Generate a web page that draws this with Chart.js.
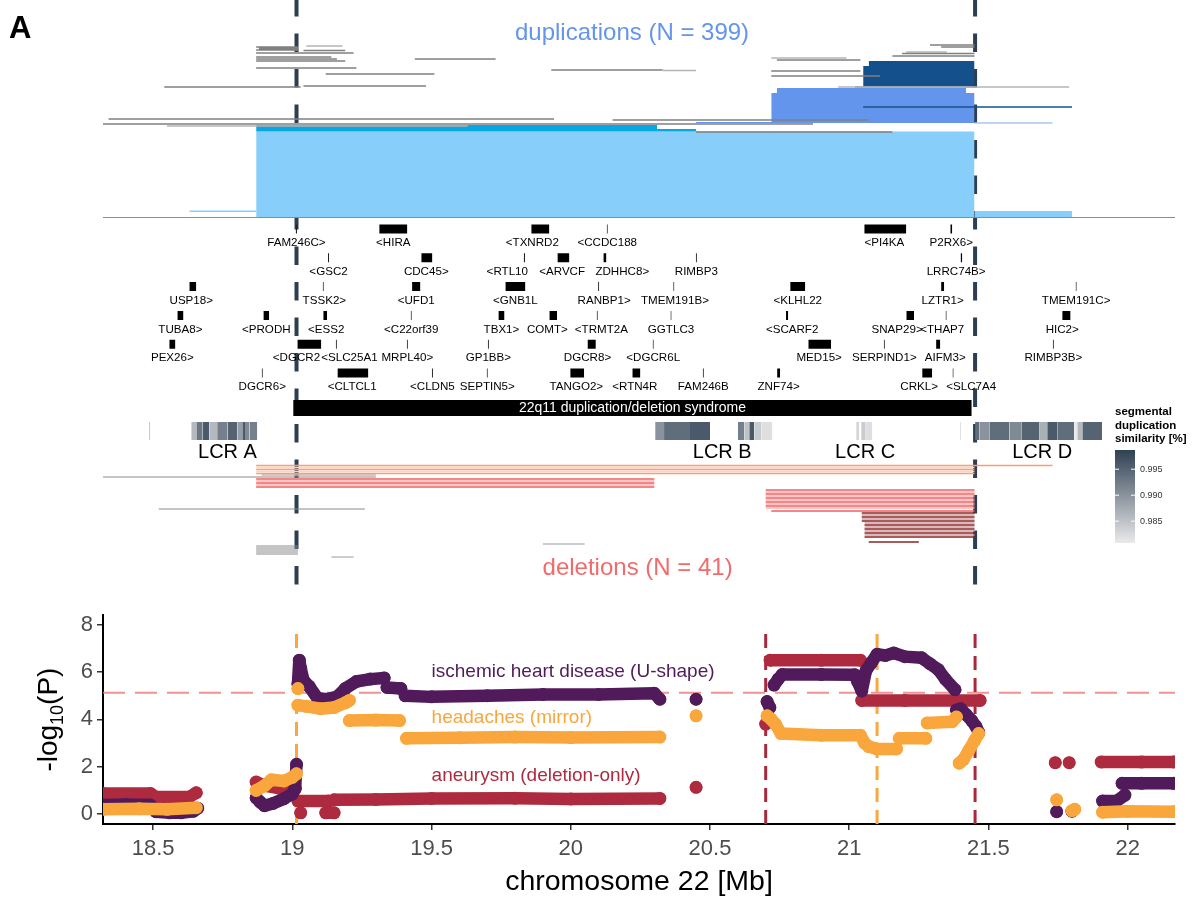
<!DOCTYPE html>
<html>
<head>
<meta charset="utf-8">
<script src="https://cdn.jsdelivr.net/npm/chart.js@4.4.1/dist/chart.umd.min.js"></script>
<style>
  body { margin: 0; background: #fff; }
  #top { position: absolute; left: 0; top: 0; width: 1196px; height: 598px; }
  #bottom { position: absolute; left: 0; top: 598px; width: 1196px; height: 301px; }
</style>
</head>
<body>
<div id="top"><canvas id="trackChart"></canvas></div>
<div id="bottom"><canvas id="pChart"></canvas></div>
<script>
const FONT = "'Liberation Sans', Arial, Helvetica, sans-serif";

// x range shared by both panels (Mb)
const xMin = 18.32, xMax = 22.17;
const xTicks = [18.5, 19, 19.5, 20, 20.5, 21, 21.5, 22];
const yTicks = [0, 2, 4, 6, 8];

// LCR A / LCR D breakpoints
const lcrBreaks = [19.015, 21.452];

// duplications: [start, end, row]  (rows counted from the top of the track)
const dupGrayDark = [
  [18.87, 19.02, 7], [18.88, 19.02, 8.5], [18.87, 19.02, 10], [19.04, 19.19, 10.5],
  [18.87, 19.22, 13], [18.87, 19.14, 17], [18.87, 19.16, 19], [18.87, 19.19, 21],
  [18.87, 19.23, 28], [19.12, 19.51, 34], [19.44, 19.73, 19], [19.93, 20.33, 30],
  [18.54, 19.03, 47], [19.04, 19.48, 46], [18.34, 19.94, 79], [20.15, 21.07, 80],
  [18.32, 20.87, 84], [21.29, 21.45, 5], [21.33, 21.45, 7], [21.19, 21.45, 13.5],
  [21.155, 21.45, 16], [20.74, 21.04, 20], [20.72, 21.04, 31], [20.72, 21.11, 36],
  [20.45, 21.155, 92]
];
const dupGrayLight = [
  [19.05, 19.18, 6], [20.72, 20.99, 18], [21.205, 21.35, 12], [20.33, 20.45, 30.5],
  [20.96, 21.79, 47], [18.55, 19.63, 86]
];
const dupDarkBlueBlocks = [[21.07, 21.45, 21, 26], [21.05, 21.45, 26, 46.5], [21.02, 21.45, 46.5, 47.5]];
const dupDarkBlueLines = [[21.05, 21.80, 67]];
const dupMidBlueBlocks = [[20.74, 21.42, 48, 53], [20.72, 21.45, 53, 82], [20.45, 21.45, 82, 83]];
const dupPaleBlueLines = [[21.45, 21.73, 83]];
const dupBrightBlueBlocks = [[18.87, 20.31, 85, 91.5], [20.31, 20.45, 89, 91.5]];
const dupLightBlueBlocks = [[18.87, 21.45, 91.5, 177], [21.45, 21.80, 171, 177], [18.63, 18.87, 170.5, 172]];
const dupBaseline = [[18.32, 22.17, 177.5]];

// genes: [label, start, end, lane, label position]
const genes = [
  ['FAM246C>', 19.012, 19.017, 1], ['<HIRA', 19.312, 19.413, 1], ['<TXNRD2', 19.858, 19.923, 1, 19.862],
  ['<CCDC188', 20.129, 20.133, 1], ['<PI4KA', 21.054, 21.205, 1, 21.126], ['P2RX6>', 21.363, 21.370, 1],
  ['<GSC2', 19.128, 19.132, 2], ['CDC45>', 19.463, 19.503, 2, 19.481], ['<RTL10', 19.831, 19.836, 2, 19.772],
  ['<ARVCF', 19.952, 19.995, 2, 19.969], ['ZDHHC8>', 20.117, 20.128, 2, 20.185], ['RIMBP3', 20.449, 20.453, 2],
  ['LRRC74B>', 21.400, 21.406, 2, 21.384],
  ['USP18>', 18.630, 18.655, 3, 18.637], ['TSSK2>', 19.109, 19.113, 3, 19.115], ['<UFD1', 19.430, 19.460, 3],
  ['<GNB1L', 19.765, 19.837, 3], ['RANBP1>', 20.098, 20.102, 3, 20.120], ['TMEM191B>', 20.368, 20.372, 3, 20.374],
  ['<KLHL22', 20.788, 20.842, 3], ['LZTR1>', 21.330, 21.341, 3], ['TMEM191C>', 21.813, 21.817, 3],
  ['TUBA8>', 18.587, 18.609, 4], ['<PRODH', 18.896, 18.917, 4], ['<ESS2', 19.111, 19.125, 4, 19.122],
  ['<C22orf39', 19.425, 19.429, 4], ['TBX1>', 19.740, 19.762, 4], ['COMT>', 19.923, 19.951, 4, 19.916],
  ['<TRMT2A', 20.093, 20.097, 4, 20.110], ['GGTLC3', 20.358, 20.362, 4], ['<SCARF2', 20.773, 20.781, 4, 20.795],
  ['SNAP29>', 21.205, 21.233, 4, 21.172], ['<THAP7', 21.346, 21.350, 4, 21.334], ['HIC2>', 21.765, 21.795, 4, 21.765],
  ['PEX26>', 18.558, 18.580, 5], ['<DGCR2', 19.018, 19.104, 5, 19.015], ['<SLC25A1', 19.156, 19.160, 5, 19.205],
  ['MRPL40>', 19.411, 19.415, 5], ['GP1BB>', 19.702, 19.706, 5], ['DGCR8>', 20.060, 20.090, 5, 20.060],
  ['<DGCR6L', 20.294, 20.298, 5], ['MED15>', 20.853, 20.935, 5, 20.892], ['SERPIND1>', 21.124, 21.128, 5],
  ['AIFM3>', 21.312, 21.327, 5, 21.345], ['RIMBP3B>', 21.731, 21.735, 5],
  ['DGCR6>', 18.890, 18.894, 6], ['<CLTCL1', 19.162, 19.273, 6, 19.215], ['<CLDN5', 19.501, 19.505, 6],
  ['SEPTIN5>', 19.698, 19.702, 6], ['TANGO2>', 19.998, 20.048, 6, 20.020], ['<RTN4R', 20.221, 20.250, 6, 20.230],
  ['FAM246B', 20.474, 20.478, 6], ['ZNF74>', 20.741, 20.752, 6], ['CRKL>', 21.262, 21.298, 6, 21.251],
  ['<SLC7A4', 21.371, 21.375, 6, 21.438]
];

const syndromeRegion = [19.003, 21.44];
const syndromeLabel = '22q11 duplication/deletion syndrome';

// segmental duplications: [start, end, similarity]
const lcrCells = [
  [18.485, 18.490, 0.984],
  [18.637, 18.655, 0.986], [18.655, 18.677, 0.993], [18.677, 18.702, 0.996], [18.702, 18.730, 0.986],
  [18.730, 18.767, 0.992], [18.767, 18.803, 0.995], [18.803, 18.820, 0.989], [18.820, 18.830, 0.996],
  [18.830, 18.846, 0.991], [18.846, 18.874, 0.992],
  [20.303, 20.335, 0.990], [20.335, 20.425, 0.994], [20.425, 20.500, 0.996],
  [20.600, 20.623, 0.992], [20.623, 20.641, 0.985], [20.641, 20.659, 0.996], [20.659, 20.684, 0.984],
  [20.684, 20.724, 0.982],
  [21.025, 21.036, 0.983], [21.043, 21.057, 0.984], [21.057, 21.083, 0.982], [21.398, 21.402, 0.982],
  [21.452, 21.467, 0.994], [21.467, 21.503, 0.990], [21.503, 21.575, 0.994], [21.575, 21.618, 0.991],
  [21.618, 21.682, 0.995], [21.682, 21.711, 0.987], [21.711, 21.747, 0.996], [21.747, 21.808, 0.994],
  [21.808, 21.819, 0.981], [21.819, 21.837, 0.986], [21.837, 21.908, 0.995]
];
const lcrNames = [['LCR A', 18.767], ['LCR B', 20.544], ['LCR C', 21.057], ['LCR D', 21.693]];
const simTicks = [0.995, 0.990, 0.985];

// deletions: [start, end, row]
const delOrange = [[18.87, 21.45, 2.5], [18.87, 21.45, 6.5], [18.87, 21.45, 10.5], [21.45, 21.73, 2.5]];
const delPeach = [[18.87, 21.45, 4.5], [18.87, 21.45, 8.5]];
const delGray = [[18.32, 19.30, 14], [18.52, 19.26, 46], [18.87, 19.02, 83], [18.87, 19.02, 85],
  [18.87, 19.02, 87], [18.87, 19.02, 89], [18.87, 19.02, 91]];
const delGrayLight = [[18.89, 19.30, 12], [19.90, 20.05, 81], [19.14, 19.22, 94]];
const delRed = [[18.87, 20.30, 16], [18.87, 20.30, 20], [18.87, 20.30, 24], [20.70, 21.45, 27],
  [20.70, 21.45, 31], [20.70, 21.45, 35], [20.70, 21.45, 39], [20.70, 21.45, 43], [20.72, 21.45, 48]];
const delPink = [[18.87, 20.30, 18], [18.87, 20.30, 22], [20.70, 21.45, 29], [20.70, 21.45, 33],
  [20.70, 21.45, 37], [20.70, 21.45, 41], [20.70, 21.45, 45]];
const delDarkRed = [[21.045, 21.45, 50], [21.045, 21.45, 54], [21.045, 21.45, 58], [21.055, 21.45, 62],
  [21.055, 21.45, 66], [21.055, 21.45, 70], [21.055, 21.45, 74], [21.07, 21.25, 79]];
const delRose = [[21.045, 21.45, 52], [21.045, 21.45, 56], [21.055, 21.45, 60], [21.055, 21.45, 64],
  [21.055, 21.45, 68], [21.055, 21.45, 72]];

// association results, -log10(P); null = no markers
const headaches = [
  [18.32, 0.2], [18.45, 0.22], [18.55, 0.2], [18.655, 0.27], null,
  [18.87, 1.0], [18.9, 1.2], [18.925, 1.45], [18.97, 1.4], [19.0, 1.55], [19.015, 1.7], null,
  [19.02, 5.3], null,
  [19.02, 4.6], [19.05, 4.55], [19.1, 4.45], [19.15, 4.5], [19.19, 4.7], [19.205, 4.8], null,
  [19.205, 3.95], [19.3, 3.97], [19.385, 3.95], null,
  [19.41, 3.2], [19.6, 3.22], [19.8, 3.25], [20.0, 3.23], [20.32, 3.25], null,
  [20.45, 4.15], null,
  [20.705, 4.15], [20.72, 4.0], [20.735, 3.8], [20.755, 3.4], [20.9, 3.33], [21.04, 3.33],
  [21.055, 3.0], [21.07, 2.85], [21.1, 2.75], [21.17, 2.75], null,
  [21.18, 3.2], [21.275, 3.2], null,
  [21.28, 3.85], [21.37, 3.9], [21.385, 4.1], null,
  [21.395, 2.15], [21.41, 2.3], [21.43, 2.7], [21.45, 3.1], [21.465, 3.4], null,
  [21.745, 0.6], null,
  [21.8, 0.14], [21.81, 0.2], null,
  [21.91, 0.08], [22.0, 0.12], [22.165, 0.1]
];
const ischemic = [
  [18.32, 0.38], [18.4, 0.4], [18.49, 0.38], [18.51, 0.1], [18.56, 0.05], [18.6, 0.05], [18.645, 0.12], [18.66, 0.25], null,
  [18.87, 0.68], [18.885, 0.5], [18.9, 0.35], [18.93, 0.45], [18.97, 0.65], [19.0, 0.85], [19.01, 1.1], [19.015, 2.1], null,
  [19.02, 5.5], [19.025, 6.5], [19.03, 6.15], [19.04, 5.65], [19.06, 5.4], [19.09, 4.9], [19.12, 4.85],
  [19.16, 4.95], [19.19, 5.3], [19.23, 5.6], [19.28, 5.7], [19.33, 5.75], null,
  [19.34, 5.35], [19.39, 5.3], null,
  [19.405, 5.0], [19.5, 4.95], [19.7, 5.0], [19.9, 5.05], [20.1, 5.05], [20.3, 5.1], [20.32, 4.85], null,
  [20.45, 4.85], null,
  [20.705, 4.75], [20.715, 4.5], null,
  [20.73, 5.45], [20.745, 5.7], [20.76, 5.9], [20.9, 5.9], [21.02, 5.88], [21.03, 5.6], [21.045, 5.2],
  [21.06, 6.05], [21.08, 6.4], [21.1, 6.75], [21.13, 6.7], [21.16, 6.8], [21.2, 6.65], [21.26, 6.6],
  [21.29, 6.35], [21.32, 6.1], [21.345, 5.7], [21.38, 5.25], null,
  [21.385, 4.4], [21.4, 4.45], [21.42, 4.2], [21.44, 3.95], [21.455, 3.7], [21.465, 3.45], null,
  [21.745, 0.1], null,
  [21.8, 0.12], null,
  [21.91, 0.55], [21.96, 0.55], [21.99, 0.8], null,
  [21.98, 1.3], [22.05, 1.3], [22.165, 1.3]
];
const aneurysm = [
  [18.32, 0.87], [18.49, 0.87], [18.51, 0.72], [18.63, 0.72], [18.655, 0.9], null,
  [18.87, 1.35], [18.9, 1.2], [18.95, 1.1], [19.01, 1.05], null,
  [19.02, 0.55], [19.13, 0.55], null,
  [19.03, 0.05], null,
  [19.12, 0.05], [19.15, 0.05], null,
  [19.15, 0.6], [19.3, 0.62], [19.5, 0.66], [19.8, 0.67], [20.0, 0.64], [20.32, 0.66], null,
  [20.45, 1.13], null,
  [20.7, 3.8], null,
  [20.716, 6.5], [20.9, 6.5], [21.04, 6.5], null,
  [21.045, 4.8], [21.2, 4.8], [21.47, 4.8], null,
  [21.74, 2.17], null,
  [21.79, 2.17], null,
  [21.905, 2.2], [22.05, 2.2], [22.165, 2.2]
];
const seriesNames = ['headaches (mirror)', 'ischemic heart disease (U-shape)', 'aneurysm (deletion-only)'];
const seriesLabelAt = [[19.5, 4.05], [19.5, 6.0], [19.5, 1.6]];
const orangeLines = [19.015, 21.10];
const redLines = [20.70, 21.452];
const pThreshold = 5.12;

// ---------- track layout (top panel, 1 unit = 1 px)
const DUP_TOP = 40, DEL_TOP = 463;
const GENE_TOP = 229, GENE_STEP = 28.8;
const BAR_ROWS = [400, 416], LCR_ROWS = [422, 440];

function segs(list, top) {
  const pts = [];
  list.forEach(([a, b, r]) => {
    pts.push({x: a, y: top + r}, {x: b, y: top + r}, {x: b, y: null});
  });
  return pts;
}
function lineSet(list, top, color, width) {
  return {data: segs(list, top), borderColor: color, borderWidth: width, pointRadius: 0, fill: false};
}
function block(a, b, r0, r1, color) {
  return {data: [{x: a, y: r0}, {x: b, y: r0}], fill: {value: r1}, backgroundColor: color,
    borderColor: 'rgba(0,0,0,0)', borderWidth: 0, pointRadius: 0};
}
function simColor(s) {
  let t = (s - 0.980) / (0.999 - 0.980);
  t = Math.max(0, Math.min(1, t));
  const c0 = [242, 242, 242], c1 = [44, 62, 80];
  const c = c0.map((v, i) => Math.round(v + (c1[i] - v) * t));
  return `rgb(${c[0]},${c[1]},${c[2]})`;
}

// draw order: first = bottom
let topSets = [];
lcrBreaks.forEach(v => topSets.push({data: [{x: v, y: -2}, {x: v, y: 585}], borderColor: '#2c3e50',
  borderWidth: 4, borderDash: [18.5, 17], pointRadius: 0, fill: false}));
dupLightBlueBlocks.forEach(b => topSets.push(block(b[0], b[1], DUP_TOP + b[2], DUP_TOP + b[3], '#87cefa')));
dupBrightBlueBlocks.forEach(b => topSets.push(block(b[0], b[1], DUP_TOP + b[2], DUP_TOP + b[3], '#06a7e2')));
dupMidBlueBlocks.forEach(b => topSets.push(block(b[0], b[1], DUP_TOP + b[2], DUP_TOP + b[3], '#6495ed')));
dupDarkBlueBlocks.forEach(b => topSets.push(block(b[0], b[1], DUP_TOP + b[2], DUP_TOP + b[3], '#14508c')));
topSets.push(lineSet(dupGrayLight, DUP_TOP, '#b5b5b5', 1.4));
topSets.push(lineSet(dupGrayDark, DUP_TOP, '#808080', 1.4));
topSets.push(lineSet(dupDarkBlueLines, DUP_TOP, '#14508c', 1.4));
topSets.push(lineSet(dupPaleBlueLines, DUP_TOP, '#a9c6f5', 1.6));
topSets.push(lineSet(dupBaseline, DUP_TOP, '#8c8c8c', 1.2));
genes.forEach(g => {
  const yc = GENE_TOP + (g[3] - 1) * GENE_STEP;
  topSets.push(block(g[1], g[2], yc - 4.5, yc + 4.5, (g[2] - g[1]) < 0.006 ? '#222' : '#000'));
});
topSets.push(block(syndromeRegion[0], syndromeRegion[1], BAR_ROWS[0], BAR_ROWS[1], '#000'));
lcrCells.forEach(c => topSets.push(block(c[0], c[1], LCR_ROWS[0], LCR_ROWS[1], simColor(c[2]))));
topSets.push(lineSet(delGray, DEL_TOP, '#8a8a8a', 1.0));
topSets.push(lineSet(delGrayLight, DEL_TOP, '#bdbdbd', 1.3));
topSets.push(lineSet(delPeach, DEL_TOP, '#fdd3bf', 1.3));
topSets.push(lineSet(delOrange, DEL_TOP, '#fc9d6c', 1.3));
topSets.push(lineSet(delPink, DEL_TOP, '#f7b2b2', 1.3));
topSets.push(lineSet(delRed, DEL_TOP, '#f06060', 1.3));
topSets.push(lineSet(delRose, DEL_TOP, '#cba4a4', 1.3));
topSets.push(lineSet(delDarkRed, DEL_TOP, '#8e2424', 1.3));
topSets = topSets.map((d, i) => Object.assign(d, {order: -i, tension: 0, spanGaps: false}));

const trackText = {
  id: 'trackText',
  afterDatasetsDraw(chart) {
    const {ctx, scales: {x, y}} = chart;
    ctx.save();
    ctx.textBaseline = 'middle';
    // panel letter
    ctx.fillStyle = '#000';
    ctx.textAlign = 'left';
    ctx.font = `bold 31px ${FONT}`;
    ctx.fillText('A', 9, 29);
    // titles
    ctx.textAlign = 'center';
    ctx.font = `24px ${FONT}`;
    ctx.fillStyle = '#6495ed';
    ctx.fillText('duplications (N = 399)', x.getPixelForValue(20.22), y.getPixelForValue(33));
    ctx.fillStyle = '#f06b6b';
    ctx.fillText('deletions (N = 41)', x.getPixelForValue(20.24), y.getPixelForValue(568));
    // genes
    ctx.fillStyle = '#000';
    ctx.font = `11.6px ${FONT}`;
    genes.forEach(g => {
      const at = g[4] !== undefined ? g[4] : (g[1] + g[2]) / 2;
      ctx.fillText(g[0], x.getPixelForValue(at), y.getPixelForValue(GENE_TOP + (g[3] - 1) * GENE_STEP + 14));
    });
    // syndrome bar label
    ctx.fillStyle = '#fff';
    ctx.font = `14px ${FONT}`;
    ctx.fillText(syndromeLabel, x.getPixelForValue((syndromeRegion[0] + syndromeRegion[1]) / 2),
      y.getPixelForValue((BAR_ROWS[0] + BAR_ROWS[1]) / 2));
    // LCR names
    ctx.fillStyle = '#000';
    ctx.font = `20px ${FONT}`;
    lcrNames.forEach(([n, v]) => ctx.fillText(n, x.getPixelForValue(v), y.getPixelForValue(452)));
    // colour bar legend
    const L = 1115, W = 20, T = 450, B = 543, sTop = 0.9987, sBot = 0.9808;
    const grad = ctx.createLinearGradient(0, T, 0, B);
    grad.addColorStop(0, simColor(sTop));
    grad.addColorStop(1, simColor(sBot));
    ctx.fillStyle = grad;
    ctx.fillRect(L, T, W, B - T);
    ctx.textAlign = 'left';
    ctx.font = `bold 11.5px ${FONT}`;
    ctx.fillStyle = '#000';
    ['segmental', 'duplication', 'similarity [%]'].forEach((t, i) => ctx.fillText(t, L, 412 + i * 13.5));
    ctx.font = `9px ${FONT}`;
    simTicks.forEach(s => {
      const py = T + (sTop - s) / (sTop - sBot) * (B - T);
      ctx.strokeStyle = '#fff';
      ctx.lineWidth = 1;
      ctx.beginPath();
      ctx.moveTo(L, py); ctx.lineTo(L + 4, py);
      ctx.moveTo(L + W - 4, py); ctx.lineTo(L + W, py);
      ctx.stroke();
      ctx.fillStyle = '#333';
      ctx.fillText(s.toFixed(3), L + W + 5, py);
    });
    ctx.restore();
  }
};

new Chart(document.getElementById('trackChart'), {
  type: 'line',
  data: {datasets: topSets},
  options: {
    animation: false, responsive: true, maintainAspectRatio: false, events: [],
    layout: {padding: {left: 103, right: 21, top: 0, bottom: 0}},
    scales: {
      x: {type: 'linear', min: xMin, max: xMax, display: false},
      y: {type: 'linear', min: 0, max: 598, reverse: true, display: false}
    },
    plugins: {legend: {display: false}, tooltip: {enabled: false}}
  },
  plugins: [trackText]
});

// ---------- association panel
function toPoints(arr) {
  const out = [];
  arr.forEach(p => {
    if (p === null) out.push({x: out[out.length - 1].x, y: null});
    else out.push({x: p[0], y: p[1]});
  });
  return out;
}
const seriesColors = ['#f9a63c', '#511a5b', '#ae2a3f'];
const pSets = [];
[headaches, ischemic, aneurysm].forEach((s, i) => pSets.push({
  data: toPoints(s), borderColor: seriesColors[i], backgroundColor: seriesColors[i],
  borderWidth: 12.5, borderCapStyle: 'round', borderJoinStyle: 'round',
  pointRadius: 6.5, pointBorderWidth: 0, pointBackgroundColor: seriesColors[i],
  spanGaps: false, tension: 0, order: i + 1
}));
pSets.push({data: [{x: xMin, y: pThreshold}, {x: xMax, y: pThreshold}], borderColor: 'rgba(232,120,120,0.8)',
  borderWidth: 2, borderDash: [22, 10], pointRadius: 0, order: 10});
orangeLines.forEach(v => pSets.push({data: [{x: v, y: -0.42}, {x: v, y: 7.9}], borderColor: '#f9a73e',
  borderWidth: 3, borderDash: [14, 8], pointRadius: 0, order: 9}));
redLines.forEach(v => pSets.push({data: [{x: v, y: -0.42}, {x: v, y: 7.9}], borderColor: '#a8283c',
  borderWidth: 3, borderDash: [14, 8], pointRadius: 0, order: 9}));

const pText = {
  id: 'pText',
  afterDatasetsDraw(chart) {
    const {ctx, scales: {x, y}} = chart;
    ctx.save();
    ctx.textBaseline = 'middle';
    ctx.textAlign = 'left';
    ctx.font = `19px ${FONT}`;
    seriesNames.forEach((n, i) => {
      ctx.fillStyle = seriesColors[i];
      ctx.fillText(n, x.getPixelForValue(seriesLabelAt[i][0]), y.getPixelForValue(seriesLabelAt[i][1]));
    });
    // y title with subscript
    ctx.translate(47, (chart.chartArea.top + chart.chartArea.bottom) / 2);
    ctx.rotate(-Math.PI / 2);
    ctx.fillStyle = '#000';
    ctx.textBaseline = 'alphabetic';
    const big = `28px ${FONT}`, small = `18px ${FONT}`;
    ctx.font = big; const w1 = ctx.measureText('-log').width, w3 = ctx.measureText('(P)').width;
    ctx.font = small; const w2 = ctx.measureText('10').width;
    let cx = -(w1 + w2 + w3) / 2;
    ctx.font = big; ctx.fillText('-log', cx, 10); cx += w1;
    ctx.font = small; ctx.fillText('10', cx, 16); cx += w2;
    ctx.font = big; ctx.fillText('(P)', cx, 10);
    ctx.restore();
  }
};

new Chart(document.getElementById('pChart'), {
  type: 'line',
  data: {datasets: pSets},
  options: {
    animation: false, responsive: true, maintainAspectRatio: false, events: [],
    layout: {padding: {top: 14, right: 21, left: 0, bottom: 0}},
    scales: {
      x: {
        type: 'linear', min: xMin, max: xMax,
        afterBuildTicks: s => { s.ticks = xTicks.map(v => ({value: v})); },
        afterFit: s => { s.height = 75; },
        grid: {display: true, drawOnChartArea: false, drawTicks: true, tickLength: 6, color: '#333', lineWidth: 1.5},
        border: {display: true, color: '#000', width: 2},
        ticks: {color: '#4d4d4d', font: {size: 22, family: FONT}, padding: 6, maxRotation: 0, autoSkip: false,
          callback: v => String(v)},
        title: {display: true, text: 'chromosome 22 [Mb]', color: '#000', font: {size: 28.5, family: FONT},
          padding: {top: 0, bottom: 0}}
      },
      y: {
        type: 'linear', min: -0.42, max: 8.4,
        afterBuildTicks: s => { s.ticks = yTicks.map(v => ({value: v})); },
        afterFit: s => { s.width = 103; },
        grid: {display: true, drawOnChartArea: false, drawTicks: true, tickLength: 6, color: '#333', lineWidth: 1.5},
        border: {display: true, color: '#000', width: 2},
        ticks: {color: '#4d4d4d', font: {size: 22, family: FONT}, padding: 4}
      }
    },
    plugins: {legend: {display: false}, tooltip: {enabled: false}}
  },
  plugins: [pText]
});
</script>
</body>
</html>
